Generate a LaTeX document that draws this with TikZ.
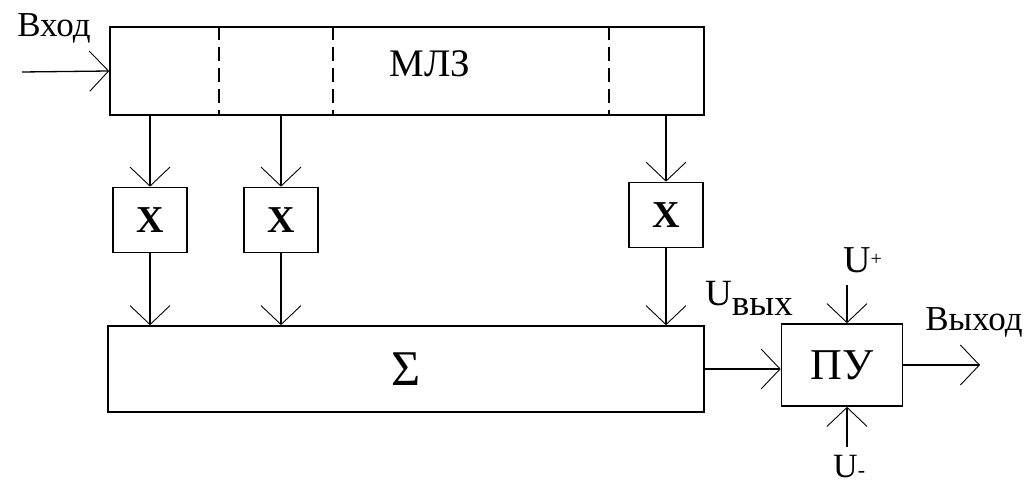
\documentclass[tikz,border=0pt]{standalone}
\usepackage{fontspec}
\setmainfont{Liberation Serif}
\usetikzlibrary{positioning, arrows.meta}

\begin{document}
\begin{tikzpicture}[
    x=1pt, y=-1pt,
    block/.style={draw, line width=1.6pt, inner sep=0pt},
    mult/.style={block, minimum width=74pt, minimum height=65pt,
      font=\fontsize{38}{38}\selectfont\bfseries},
    link/.style={line width=1.3pt,
      -{Straight Barb[length=19pt, width=40pt, line width=0.9pt]}},
    lbl/.style={inner sep=0pt, font=\fontsize{35}{35}\selectfont},
]
    \useasboundingbox (0,0) rectangle (1032,486);

    % Delay line
    \node[block, minimum width=594pt, minimum height=88pt] (mlz) at (407,71) {};
    \node[lbl, font=\fontsize{39}{39}\selectfont] (mlztext) at (430,64) {МЛЗ};
    \foreach \xpos in {219, 333, 609} {
      \coordinate (tap) at (\xpos,0);
      \draw[line width=1.2pt, dash pattern=on 14pt off 7pt]
        (mlz.north -| tap) -- (mlz.south -| tap);
    }

    % Multipliers, adder, threshold unit
    \node[mult] (x1) at (150,220) {X};
    \node[mult] (x2) at (281,220) {X};
    \node[mult] (x3) at (666,215) {X};
    \node[block, minimum width=596pt, minimum height=86pt,
          font=\fontsize{50}{50}\selectfont] (sum) at (406,369) {Σ};
    \node[block, minimum width=121pt, minimum height=82pt,
          font=\fontsize{44}{44}\selectfont] (pu) at (842,365) {ПУ};

    % Connectors
    \coordinate (in) at (22,72);
    \draw[link] (in) -- (mlz.west);
    \foreach \k in {x1, x2, x3} {
      \draw[link] (mlz.south -| \k) -- (\k.north);
      \draw[link] (\k.south) -- (\k.south |- sum.north);
    }
    \draw[link] (sum.east) -- (sum.east -| pu.west);
    \coordinate (out) at (980,365);
    \draw[link] (pu.east) -- (out);
    \coordinate (uplus) at (847,285);
    \draw[link] (uplus) -- (uplus |- pu.north);
    \coordinate (uminus) at (847,447);
    \draw[link] (uminus) -- (uminus |- pu.south);

    % Labels
    \node[lbl] (inlabel) at (54,28) {Вход};
    \node[lbl] (outlabel) at (974,322) {Выход};
    \node[lbl, anchor=base west, font=\fontsize{37}{37}\selectfont] (uout)
      at (705,305) {U\raisebox{-10pt}{вых}};
    \node[lbl, anchor=base west, font=\fontsize{38}{38}\selectfont] (uplabel)
      at (843,272) {U\raisebox{7pt}{\fontsize{20}{20}\selectfont +}};
    \node[lbl, anchor=base west, font=\fontsize{34}{34}\selectfont] (umlabel)
      at (833,477) {U{\fontsize{22}{22}\selectfont -}};
\end{tikzpicture}
\end{document}
